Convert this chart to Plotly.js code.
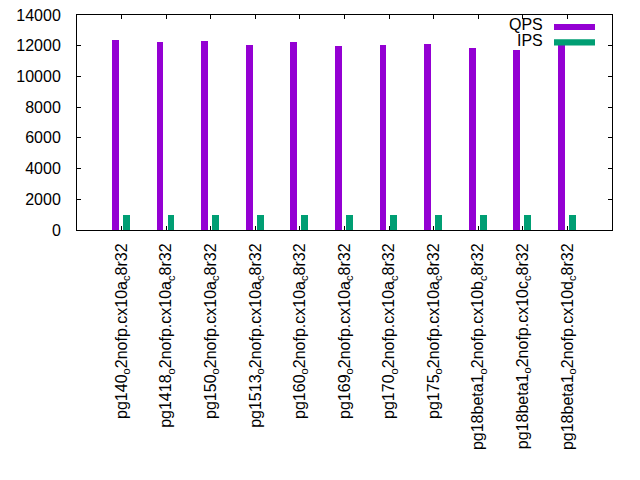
<!DOCTYPE html>
<html>
<head>
<meta charset="utf-8">
<script src="https://cdn.plot.ly/plotly-3.0.1.min.js"></script>
<style>html,body{margin:0;padding:0;background:#fff;}#chart{width:640px;height:480px;}</style>
</head>
<body>
<div id="chart"></div>
<script>
const categories = [
  "pg140<sub>o</sub>2nofp.cx10a<sub>c</sub>8r32",
  "pg1418<sub>o</sub>2nofp.cx10a<sub>c</sub>8r32",
  "pg150<sub>o</sub>2nofp.cx10a<sub>c</sub>8r32",
  "pg1513<sub>o</sub>2nofp.cx10a<sub>c</sub>8r32",
  "pg160<sub>o</sub>2nofp.cx10a<sub>c</sub>8r32",
  "pg169<sub>o</sub>2nofp.cx10a<sub>c</sub>8r32",
  "pg170<sub>o</sub>2nofp.cx10a<sub>c</sub>8r32",
  "pg175<sub>o</sub>2nofp.cx10a<sub>c</sub>8r32",
  "pg18beta1<sub>o</sub>2nofp.cx10b<sub>c</sub>8r32",
  "pg18beta1<sub>o</sub>2nofp.cx10c<sub>c</sub>8r32",
  "pg18beta1<sub>o</sub>2nofp.cx10d<sub>c</sub>8r32"
];
const qps = [12370, 12240, 12300, 12050, 12240, 11980, 12050, 12110, 11850, 11720, 12100];
const ips = [980, 980, 980, 980, 980, 980, 980, 980, 980, 980, 980];
const seriesNames = ["QPS", "IPS"];
const yTicks = [0, 2000, 4000, 6000, 8000, 10000, 12000, 14000];

const xIdx = categories.map((_, i) => i);
const font = {family: "Liberation Sans, Arial, sans-serif", size: 16, color: "#000"};

const traces = [
  {type: "bar", x: xIdx, y: qps, name: seriesNames[0], offset: -0.215, width: 0.155,
   marker: {color: "#9400d3", line: {width: 0}}, showlegend: false},
  {type: "bar", x: xIdx, y: ips, name: seriesNames[1], offset: 0.03, width: 0.155,
   marker: {color: "#009e73", line: {width: 0}}, showlegend: false}
];

const layout = {
  width: 640, height: 480,
  margin: {l: 77, r: 28, t: 15, b: 250, pad: 0},
  paper_bgcolor: "#fff", plot_bgcolor: "#fff",
  font: font,
  xaxis: {
    range: [-1, 11], tickvals: xIdx, ticktext: categories, tickangle: -90,
    ticks: "inside", ticklen: 4, tickcolor: "#000", showline: true, linecolor: "#000", linewidth: 1,
    mirror: "ticks", showgrid: false, zeroline: false, tickfont: font, ticklabelstandoff: 6
  },
  yaxis: {
    range: [0, 14000], tickvals: yTicks, ticktext: yTicks.map(String),
    ticks: "inside", ticklen: 4, tickcolor: "#000", showline: true, linecolor: "#000", linewidth: 1,
    mirror: "ticks", showgrid: false, zeroline: false, tickfont: font, ticklabelstandoff: 12
  },
  showlegend: false,
  annotations: [
    {xref: "paper", yref: "paper", x: (545 - 77) / 535, y: (230 - 25) / 215, xanchor: "right", yanchor: "middle",
     text: seriesNames[0], showarrow: false, font: font},
    {xref: "paper", yref: "paper", x: (545 - 77) / 535, y: (230 - 40.5) / 215, xanchor: "right", yanchor: "middle",
     text: seriesNames[1], showarrow: false, font: font}
  ],
  shapes: [
    {type: "rect", xref: "paper", yref: "paper", x0: (554 - 77) / 535, x1: (595 - 77) / 535,
     y0: (230 - 30) / 215, y1: (230 - 24) / 215, fillcolor: "#9400d3", line: {width: 0}},
    {type: "rect", xref: "paper", yref: "paper", x0: (554 - 77) / 535, x1: (595 - 77) / 535,
     y0: (230 - 45.5) / 215, y1: (230 - 39.3) / 215, fillcolor: "#009e73", line: {width: 0}}
  ],
  bargap: 0
};

Plotly.newPlot("chart", traces, layout, {staticPlot: true, displayModeBar: false});
</script>
</body>
</html>
